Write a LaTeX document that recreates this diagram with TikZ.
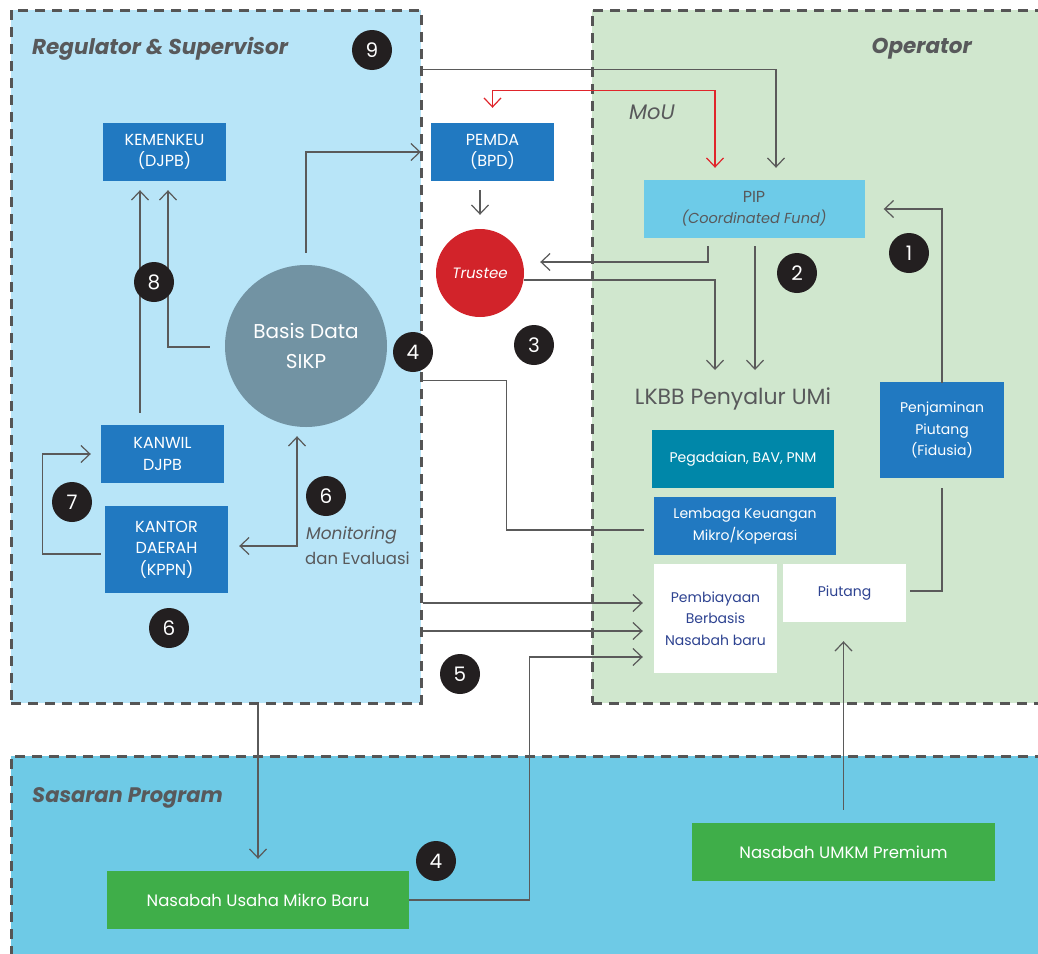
\documentclass[tikz,border=0pt]{standalone}
\usepackage{fontspec}
\setmainfont{Poppins}
\usetikzlibrary{calc,arrows.meta}

\definecolor{regfill}{HTML}{B8E5F8}
\definecolor{oprfill}{HTML}{D0E7CE}
\definecolor{sasfill}{HTML}{6ECAE6}
\definecolor{dashgray}{HTML}{555555}
\definecolor{boxblue}{HTML}{2179C1}
\definecolor{pipblue}{HTML}{6DCBE8}
\definecolor{tealbox}{HTML}{0087A9}
\definecolor{trustred}{HTML}{D2232A}
\definecolor{sikpgray}{HTML}{7293A3}
\definecolor{nasgreen}{HTML}{3FAE49}
\definecolor{navytext}{HTML}{2E4391}
\definecolor{headgray}{HTML}{58595B}
\definecolor{linegray}{HTML}{5A5A5A}
\definecolor{mousred}{HTML}{E0252B}
\definecolor{numblack}{HTML}{231F20}

\tikzset{
  region/.style={draw=dashgray, line width=3pt, dash pattern=on 10pt off 7pt, inner sep=0},
  box/.style={rectangle, inner sep=0, align=center, text=white, font=\fontsize{14}{21.5}\selectfont},
  capsbox/.style={box, font=\fontsize{16}{21.5}\selectfont},
  bluebox/.style={box, fill=boxblue},
  whitebox/.style={box, fill=white, text=navytext},
  greenbox/.style={box, fill=nasgreen, font=\fontsize{16.5}{20}\selectfont},
  heading/.style={text=headgray, font=\fontsize{21.5}{24}\selectfont\bfseries\itshape, inner sep=0},
  arr/.style={draw=linegray, line width=1.2pt, -{Straight Barb[length=9pt,width=17pt]}},
  plain/.style={draw=linegray, line width=1.2pt},
  num/.style={circle, fill=numblack, text=white, minimum size=40pt, inner sep=0, font=\fontsize{20}{20}\selectfont},
}

\begin{document}
\begin{tikzpicture}[x=1pt,y=-1pt]
\useasboundingbox (0,0) rectangle (1038,953);
\clip (0,0) rectangle (1038,953);

% the three areas
\node[region, fill=regfill, minimum width=410pt, minimum height=693pt] (reg) at (216,356.5) {};
\node[region, fill=oprfill, minimum width=458pt, minimum height=693pt] (opr) at (821,356.5) {};
\node[region, fill=sasfill, minimum width=1039pt, minimum height=214pt] (sas) at (530.5,863) {};

\node[heading, anchor=west] (hreg) at (32,49) {Regulator \& Supervisor};
\node[heading, anchor=east] (hopr) at (972,49) {Operator};
\node[heading, anchor=west, font=\fontsize{21}{24}\selectfont\bfseries\itshape] (hsas) at (32,798) {Sasaran Program};
\node[text=headgray, font=\fontsize{21}{24}\selectfont\itshape, inner sep=0] (mou) at (652,112) {MoU};

% boxes and circles
\node[bluebox, capsbox, minimum width=123pt, minimum height=58pt] (kem) at (164.5,152) {KEMENKEU\\(DJPB)};
\node[bluebox, capsbox, minimum width=123pt, minimum height=58pt] (pemda) at (492.5,152) {PEMDA\\(BPD)};
\node[box, fill=pipblue, text=headgray, font=\fontsize{14.5}{21.5}\selectfont, minimum width=221pt, minimum height=58pt] (pip) at (754,209) {{\fontsize{16}{21.5}\selectfont PIP}\\\textit{(Coordinated Fund)}};
\node[circle, fill=trustred, text=white, minimum size=88pt, inner sep=0, font=\fontsize{15}{16}\selectfont\itshape] (trustee) at (480,273) {Trustee};
\node[circle, fill=sikpgray, text=white, minimum size=162pt, inner sep=0, align=center, font=\fontsize{20}{30}\selectfont] (sikp) at (306,346) {Basis Data\\SIKP};
\node[bluebox, capsbox, minimum width=123pt, minimum height=58pt] (kanwil) at (162.5,454) {KANWIL\\DJPB};
\node[bluebox, capsbox, minimum width=123pt, minimum height=87pt] (kantor) at (166.5,549.5) {KANTOR\\DAERAH\\(KPPN)};
\node[text=headgray, font=\fontsize{22}{24}\selectfont, inner sep=0] (lkbb) at (733,399) {LKBB Penyalur UMi};
\node[box, fill=tealbox, minimum width=182pt, minimum height=58pt] (peg) at (743,459) {Pegadaian, BAV, PNM};
\node[bluebox, minimum width=182pt, minimum height=58pt] (lemb) at (745,526) {Lembaga Keuangan\\Mikro/Koperasi};
\node[bluebox, minimum width=124pt, minimum height=96pt] (penj) at (942,430) {Penjaminan\\Piutang\\(Fidusia)};
\node[whitebox, minimum width=123pt, minimum height=109pt] (pemb) at (715.5,618.5) {Pembiayaan\\Berbasis\\Nasabah baru};
\node[whitebox, minimum width=123pt, minimum height=58pt] (piut) at (844.5,593) {Piutang};
\node[greenbox, minimum width=302pt, minimum height=58pt] (nmb) at (258,900) {Nasabah Usaha Mikro Baru};
\node[greenbox, minimum width=303pt, minimum height=58pt] (umkm) at (843.5,852) {Nasabah UMKM Premium};

\node[text=headgray, font=\fontsize{17}{20}\selectfont\itshape, inner sep=0, anchor=west] (mon) at (306,535) {Monitoring};
\node[text=headgray, font=\fontsize{16.5}{20}\selectfont, inner sep=0, anchor=west] (eva) at (305,558) {dan Evaluasi};

% connectors
\draw[arr] ($(sikp.west)+(-15,1)$) -| ($(kem.south)+(3.5,9)$);
\draw[arr] ($(kanwil.north)+(-22.5,-12)$) -- ($(kem.south)+(-24.5,9)$);
\draw[arr] ($(sikp.north)+(0,-12)$) |- ($(pemda.west)+(-10,0)$);
\draw[arr] ($(pemda.south -| trustee.north)+(0,9)$) -- ($(trustee.north)+(0,-14)$);
\draw[arr] ($(reg.north east)+(0,61)$) -| ($(pip.north)+(22,-12)$);
\draw[draw=mousred, line width=1.2pt, {Straight Barb[length=9pt,width=17pt]}-{Straight Barb[length=9pt,width=17pt]}]
  ($(pemda.north)+(0,-15)$) -- ($(pemda.north)+(0,-32)$) -| ($(pip.north)+(-39,-12)$);
\draw[arr] ($(pip.south)+(-46,8)$) |- ($(trustee.east)+(16,-11)$);
\draw[arr] ($(trustee.east)+(0,7)$) -| ($(lkbb.center)+(-18,-29)$);
\draw[arr] ($(pip.south)+(1,8)$) -- ($(lkbb.center)+(22,-29)$);
\draw[arr] ($(penj.north)+(0,1)$) |- ($(pip.east)+(19,0)$);
\draw[plain] ($(piut.east)+(4,-2)$) -| ($(penj.south)+(0,10)$);
\draw[plain] ($(reg.north east)+(0,372)$) -- ++(84,0) |- ($(lemb.west)+(-10,4)$);
\coordinate (p1) at ($(pemb.west)+(-11,-15.5)$);
\coordinate (p2) at ($(pemb.west)+(-11,12.5)$);
\coordinate (p3) at ($(pemb.west)+(-11,38.5)$);
\draw[arr] (reg.east |- p1) -- (p1);
\draw[arr] (reg.east |- p2) -- (p2);
\draw[arr] (nmb.east) -- ++(120,0) |- (p3);
\draw[arr] (nmb.north |- reg.south) -- ($(nmb.north)+(0,-12)$);
\coordinate (q) at ($(piut.south)+(0,19)$);
\draw[arr] ($(umkm.north)+(0,-13)$) -- (umkm.north |- q);
\draw[arr, {Straight Barb[length=9pt,width=17pt]}-{Straight Barb[length=9pt,width=17pt]}]
  ($(kantor.east)+(11,-3.5)$) -| ($(sikp.south)+(-9,9)$);
\draw[arr] ($(kantor.west)+(-4,4.5)$) -- ++(-58,0) |- ($(kanwil.west)+(-10,0)$);

% step numbers
\node[num] (n9) at (372,50) {9};
\node[num] (n8) at (154,282) {8};
\node[num] (n4a) at (413,352) {4};
\node[num] (n7) at (72,502) {7};
\node[num] (n6a) at (326,496) {6};
\node[num] (n6b) at (169,628) {6};
\node[num] (n3) at (534,345) {3};
\node[num] (n2) at (797,273) {2};
\node[num] (n1) at (909,253) {1};
\node[num] (n5) at (460,674) {5};
\node[num] (n4b) at (436,861) {4};
\end{tikzpicture}
\end{document}
